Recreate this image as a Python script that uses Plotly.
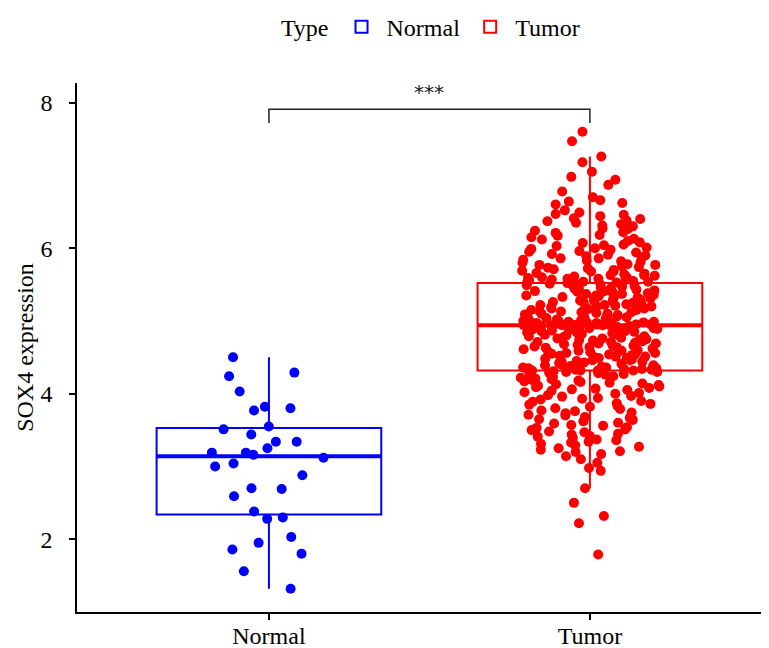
import numpy as np
import plotly.graph_objects as go

categories = ["Normal", "Tumor"]
colors = {"Normal": "#0000FF", "Tumor": "#FF0000"}

normal_values = [4.50, 4.29, 4.24, 4.03, 3.82, 3.80, 3.77, 3.55, 3.51, 3.44,
                 3.34, 3.34, 3.25, 3.19, 3.19, 3.16, 3.12, 3.04, 3.00, 2.88,
                 2.69, 2.70, 2.59, 2.38, 2.30, 2.28, 2.03, 1.95, 1.80, 1.86,
                 1.56, 1.32]

tumor_upper = [7.60, 7.47, 7.26, 7.18, 7.05, 6.98, 6.94, 6.87, 6.78, 6.70, 6.66, 6.64, 6.62, 6.60, 6.52,
               6.49, 6.47, 6.46, 6.44, 6.41, 6.40, 6.38, 6.37, 6.35, 6.33, 6.31, 6.30, 6.27, 6.26, 6.24,
               6.22, 6.21, 6.18, 6.17, 6.15, 6.13, 6.12, 6.10, 6.08, 6.07, 6.05, 6.04, 6.03, 6.01, 6.00,
               5.99, 5.98, 5.96, 5.95, 5.94, 5.92, 5.91, 5.90, 5.89, 5.87, 5.86, 5.86, 5.84, 5.83, 5.82,
               5.81, 5.80, 5.78, 5.77, 5.77, 5.75, 5.74, 5.73, 5.72, 5.71, 5.70, 5.69, 5.68, 5.68, 5.66,
               5.65, 5.64, 5.63, 5.63, 5.62, 5.61, 5.60, 5.60, 5.59, 5.58, 5.58, 5.57, 5.56, 5.56, 5.55,
               5.55, 5.54, 5.54, 5.53, 5.53]
tumor_mid_high = [5.52, 5.51, 5.50, 5.50, 5.49, 5.48, 5.48, 5.47, 5.46, 5.45,
                  5.45, 5.44, 5.43, 5.42, 5.42, 5.41, 5.40, 5.40, 5.39, 5.38,
                  5.37, 5.37, 5.36, 5.35, 5.35, 5.34, 5.33, 5.32, 5.32, 5.31,
                  5.30, 5.30, 5.29, 5.28, 5.27, 5.27, 5.26, 5.25, 5.25, 5.24,
                  5.23, 5.22, 5.22, 5.21, 5.20, 5.20, 5.19, 5.18, 5.17, 5.17,
                  5.16, 5.15, 5.15, 5.14, 5.13, 5.12, 5.12, 5.11, 5.10, 5.10,
                  5.09, 5.08, 5.07, 5.07, 5.06, 5.05, 5.05, 5.04, 5.03, 5.02,
                  5.02, 5.01, 5.00, 5.00, 4.99, 4.99, 4.98, 4.98, 4.97, 4.97,
                  4.97, 4.96, 4.96, 4.96, 4.95, 4.95, 4.95, 4.95, 4.95, 4.94,
                  4.94, 4.94, 4.94, 4.94, 4.94]
tumor_median_point = [4.94]
tumor_mid_low = [4.93, 4.93, 4.92, 4.92, 4.91, 4.90, 4.90, 4.89, 4.88, 4.88,
                 4.87, 4.86, 4.86, 4.85, 4.84, 4.84, 4.83, 4.82, 4.81, 4.81,
                 4.80, 4.79, 4.79, 4.78, 4.77, 4.76, 4.76, 4.75, 4.74, 4.74,
                 4.73, 4.72, 4.71, 4.71, 4.70, 4.69, 4.69, 4.68, 4.67, 4.66,
                 4.66, 4.65, 4.64, 4.64, 4.63, 4.62, 4.61, 4.61, 4.60, 4.59,
                 4.59, 4.58, 4.57, 4.56, 4.56, 4.55, 4.54, 4.54, 4.53, 4.52,
                 4.51, 4.51, 4.50, 4.49, 4.49, 4.48, 4.47, 4.46, 4.46, 4.45,
                 4.44, 4.44, 4.43, 4.42, 4.41, 4.41, 4.40, 4.39, 4.39, 4.38,
                 4.37, 4.37, 4.36, 4.36, 4.35, 4.35, 4.34, 4.34, 4.33, 4.33,
                 4.33, 4.32, 4.32, 4.32, 4.32]
tumor_low = [4.31, 4.30, 4.30, 4.29, 4.28, 4.27, 4.26, 4.25, 4.24, 4.23,
             4.22, 4.21, 4.20, 4.19, 4.18, 4.17, 4.16, 4.15, 4.14, 4.13,
             4.12, 4.11, 4.10, 4.09, 4.08, 4.07, 4.06, 4.05, 4.04, 4.02,
             4.01, 4.00, 3.98, 3.97, 3.96, 3.94, 3.93, 3.92, 3.90, 3.89,
             3.87, 3.86, 3.85, 3.83, 3.82, 3.80, 3.79, 3.77, 3.76, 3.74,
             3.73, 3.71, 3.70, 3.68, 3.67, 3.65, 3.64, 3.62, 3.60, 3.59,
             3.57, 3.56, 3.54, 3.53, 3.51, 3.50, 3.48, 3.47, 3.45, 3.44,
             3.42, 3.41, 3.39, 3.37, 3.36, 3.34, 3.33, 3.31, 3.29, 3.27,
             3.25, 3.23, 3.21, 3.20, 3.17, 3.14, 3.10, 3.05, 2.98, 2.94,
             2.70, 2.50, 2.32, 2.22, 1.79]
tumor_values = tumor_upper + tumor_mid_high + tumor_median_point + tumor_mid_low + tumor_low

groups = {"Normal": normal_values, "Tumor": tumor_values}

y_ticks = [2, 4, 6, 8]
y_title = "SOX4 expression"
legend_title = "Type"
sig_label = "***"
bracket_y = 7.91
bracket_drop = 0.19
sig_y = 8.15

FONT = "Liberation Serif"
FS = 24
box_width = 0.7

fig = go.Figure()
for cat in categories:
    fig.add_trace(go.Box(
        x=[cat] * len(groups[cat]), y=groups[cat], name=cat,
        boxpoints="all", jitter=0.62, pointpos=0, width=box_width,
        whiskerwidth=0, fillcolor="rgba(255,255,255,0)",
        line=dict(color=colors[cat], width=2),
        marker=dict(color=colors[cat], size=10, line=dict(width=0)),
        hoverinfo="y",
    ))

# thicker median lines (ggplot style)
shapes = []
for i, cat in enumerate(categories):
    med = float(np.median(groups[cat]))
    shapes.append(dict(type="line", xref="x", yref="y", layer="below",
                       x0=i - box_width / 2, x1=i + box_width / 2, y0=med, y1=med,
                       line=dict(color=colors[cat], width=4)))

# significance bracket
shapes.append(dict(type="path", xref="x", yref="y",
                   path=f"M 0,{bracket_y - bracket_drop} L 0,{bracket_y} L 1,{bracket_y} L 1,{bracket_y - bracket_drop}",
                   line=dict(color="#222222", width=1.5)))

fig.update_layout(
    width=761, height=640,
    margin=dict(l=69, r=0, t=75, b=36, autoexpand=False),
    paper_bgcolor="white", plot_bgcolor="white",
    font=dict(family=FONT, size=FS, color="black"),
    boxmode="overlay",
    showlegend=True,
    legend=dict(orientation="h", x=0.557, xanchor="center", xref="container",
                y=0.970, yanchor="middle", yref="container",
                title=dict(text=legend_title, side="left", font=dict(size=FS)),
                font=dict(size=FS), itemwidth=40),
    shapes=shapes,
    annotations=[dict(x=0.5, y=sig_y, xref="x", yref="y", text=sig_label, showarrow=False,
                      font=dict(family="DejaVu Sans", size=20, color="#222222"))],
)
fig.update_xaxes(
    range=[-0.598, 1.558], showline=True, linecolor="black", linewidth=1.5,
    ticks="outside", ticklen=6, tickwidth=1.5, tickcolor="black",
    showgrid=False, zeroline=False, ticklabelstandoff=-5, automargin=False,
    tickfont=dict(size=FS, color="black"),
)
fig.update_yaxes(
    range=[1.0, 8.27], tickvals=y_ticks, showline=True, linecolor="black", linewidth=1.5,
    ticks="outside", ticklen=6, tickwidth=1.5, tickcolor="black",
    showgrid=False, zeroline=False, ticklabelstandoff=12, automargin=False,
    tickfont=dict(size=FS, color="black"),
    title=dict(text=y_title, font=dict(size=FS), standoff=0),
)

fig.write_html("out.html")
